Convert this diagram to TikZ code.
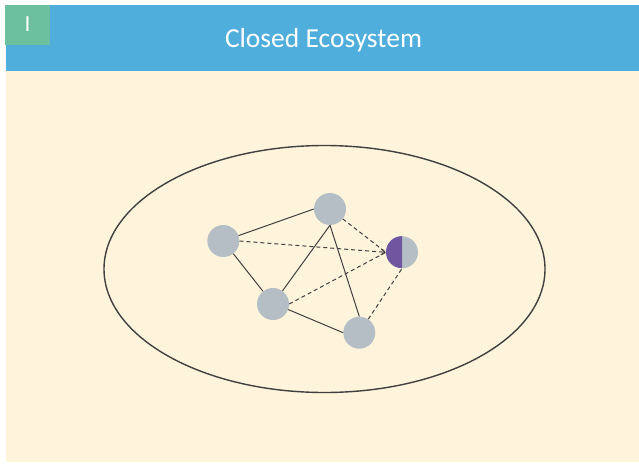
\documentclass[tikz,border=0pt]{standalone}
\usepackage{fontspec}
\setmainfont{Carlito}
\usetikzlibrary{arrows.meta,shapes.geometric}
\definecolor{hdrblue}{HTML}{4FAEDB}
\definecolor{hdrgreen}{HTML}{6CC0A0}
\definecolor{cream}{HTML}{FEF4DB}
\definecolor{dotgrey}{HTML}{B5BEC4}
\definecolor{dotpurple}{HTML}{7055A0}
\definecolor{linegrey}{HTML}{404040}
\tikzset{
  dot/.style={circle, fill=dotgrey, minimum size=32pt, inner sep=0pt},
  link/.style={draw=linegrey, line width=1pt},
  dlink/.style={draw=linegrey, line width=1pt, dash pattern=on 4pt off 3pt},
}
\begin{document}
\begin{tikzpicture}[x=1pt,y=-1pt]
\useasboundingbox (0,0) rectangle (639,464);
\fill[white] (0,0) rectangle (639,464);
\fill[cream] (6,71) rectangle (639,462);
\fill[hdrblue] (6,5) rectangle (639,71);
\fill[hdrgreen] (5,5) rectangle (50,45);
\node[text=white, font=\fontsize{23}{27}\selectfont] (num) at (27.5,24.5) {I};
\node[text=white, font=\fontsize{27.5}{31}\selectfont] (title) at (323.5,40) {Closed Ecosystem};
\node[draw=linegrey, line width=1.4pt, ellipse, minimum width=441pt, minimum height=247pt, inner sep=0pt] (eco) at (324.5,269) {};
\node[dot] (a) at (223.3,241) {};
\node[dot] (b) at (330,209) {};
\node[dot] (c) at (273,304) {};
\node[dot] (d) at (359.3,332.7) {};
\node[dot] (e) at (402,252.3) {};
\fill[dotpurple] (e.north) arc[start angle=90, end angle=270, radius=16pt] -- cycle;
\draw[link] (a) -- (b.west);
\draw[link] (a) -- (c);
\draw[link] (b.south) -- (c);
\draw[link] (b.south) -- (d.north);
\draw[link] (c.-20) -- (d.west);
\draw[dlink, -{Straight Barb[length=4pt,width=6pt]}] (a.east) -- (e.west);
\draw[dlink] (b) -- (e.west);
\draw[dlink] (c.east) -- (e.west);
\draw[dlink] (d) -- (e.south);
\end{tikzpicture}
\end{document}
